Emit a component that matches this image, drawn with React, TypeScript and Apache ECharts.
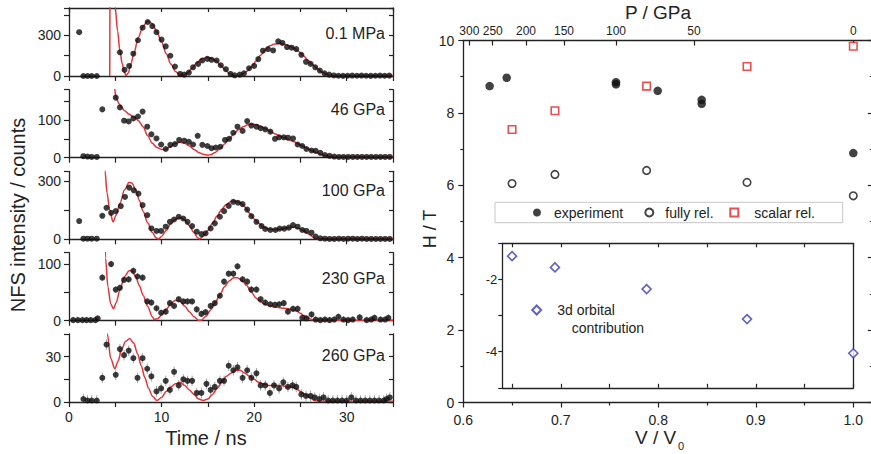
import React, { useEffect, useRef } from 'react';
import * as echarts from 'echarts';

const FONT = '"Liberation Sans", Arial, Helvetica, sans-serif';
const TEXT = '#232323';
const AX = '#232323';

// ---------- Left: NFS time spectra (time ns, counts) ----------
const nfs01MPa = [
  [1.1, 322], [1.55, 0], [2.0, 0], [2.45, 0], [3.0, 0],
  [5.5, 174], [6.0, 45], [6.5, 74], [6.95, 164], [7.45, 263], [7.95, 355], [8.5, 397], [9.0, 367], [9.45, 322],
  [10.0, 268], [10.45, 218], [10.95, 149], [11.45, 69], [12.0, 15], [12.45, 10], [12.95, 25], [13.4, 64], [13.95, 89],
  [14.4, 114], [14.95, 126], [15.4, 119], [15.95, 114], [16.4, 79], [16.95, 50], [17.45, 15], [17.9, 5], [18.45, 10],
  [18.9, 20], [19.45, 57], [20.0, 74], [20.45, 124], [20.95, 186], [21.5, 198], [22.05, 188], [22.6, 255], [23.05, 243],
  [23.55, 213], [24.05, 208], [24.55, 198], [25.1, 156], [25.6, 104], [26.1, 89], [26.6, 64], [27.1, 40], [27.6, 20],
  [28.1, 10], [28.6, 4], [29.1, 2], [29.6, 1], [30.1, 2], [30.6, 3], [31.1, 2], [31.6, 3], [32.1, 2], [32.6, 1],
  [33.1, 2], [33.6, 3], [34.1, 2], [34.6, 3],
];
const fit01MPa = [
  [4.4, 0], [4.45, 1000], [4.8, 800], [5.0, 500], [5.25, 330], [5.5, 185], [5.75, 90], [6.0, 25], [6.15, 3], [6.4, 22],
  [6.7, 90], [7.0, 165], [7.5, 285], [8.0, 368], [8.5, 403], [9.0, 385], [9.5, 325], [10.0, 250], [10.5, 165], [11.0, 88],
  [11.5, 33], [12.0, 7], [12.3, 4], [12.8, 22], [13.3, 58], [13.8, 97], [14.3, 125], [14.9, 138], [15.4, 131], [15.9, 110],
  [16.4, 77], [16.9, 42], [17.4, 15], [17.9, 2], [18.2, 1], [18.7, 12], [19.2, 35], [19.7, 68], [20.2, 108], [20.7, 152],
  [21.2, 192], [21.7, 222], [22.2, 236], [22.8, 239], [23.3, 233], [23.8, 221], [24.3, 204], [24.8, 181], [25.3, 151],
  [25.8, 118], [26.3, 85], [26.8, 55], [27.3, 30], [27.8, 12], [28.3, 3], [29, 1], [30, 3], [31, 2], [32, 4], [33, 3],
  [34, 4], [35, 4],
];

const nfs46GPa = [
  [1.55, 4], [2.0, 3], [2.45, 2], [3.0, 2], [3.6, 128], [5.05, 159], [5.5, 133], [5.95, 98], [6.45, 96], [6.95, 104],
  [7.45, 109], [7.95, 122], [8.45, 82], [8.9, 62], [9.45, 51], [9.95, 35], [10.45, 23], [10.95, 34], [11.45, 36],
  [11.9, 47], [12.45, 45], [12.95, 42], [13.4, 35], [13.9, 58], [14.4, 34], [14.95, 31], [15.4, 25], [15.85, 27],
  [16.35, 29], [16.85, 47], [17.3, 50], [17.75, 66], [18.2, 82], [18.75, 71], [19.25, 97], [19.7, 85], [20.25, 82],
  [20.7, 78], [21.2, 75], [21.75, 69], [22.25, 50], [22.7, 54], [23.2, 54], [23.65, 53], [24.2, 51], [24.7, 35],
  [25.2, 31], [25.65, 23], [26.2, 19], [26.65, 18], [27.15, 13], [27.65, 7], [28.15, 5], [28.65, 3], [29.15, 2],
  [29.65, 2], [30.15, 2], [30.65, 2], [31.15, 2], [31.65, 2], [32.15, 2], [32.65, 2], [33.15, 2], [33.65, 2],
  [34.15, 2], [34.65, 2],
];
const fit46GPa = [
  [4.7, 260], [4.9, 185], [5.1, 158], [5.4, 143], [5.7, 133], [6.0, 124], [6.5, 115], [7.0, 108], [7.5, 98], [8.0, 82],
  [8.5, 58], [9.0, 38], [9.5, 27], [10.0, 22], [10.4, 21], [10.9, 28], [11.4, 37], [12.0, 41], [12.5, 38], [13.0, 31],
  [13.5, 22], [14.0, 14], [14.5, 9], [15.0, 7], [15.3, 8], [15.8, 14], [16.3, 24], [16.8, 36], [17.3, 50], [17.8, 63],
  [18.3, 74], [18.8, 82], [19.3, 87], [19.8, 89], [20.3, 87], [20.8, 82], [21.3, 76], [21.8, 69], [22.3, 63], [22.8, 57],
  [23.3, 52], [23.8, 47], [24.3, 42], [24.8, 36], [25.3, 30], [25.8, 24], [26.3, 18], [26.8, 13], [27.3, 8], [27.8, 5],
  [28.3, 3], [29, 2], [30, 2], [31, 2], [32, 2], [33, 2], [34, 2], [35, 2],
];

const nfs100GPa = [
  [1.1, 94], [1.55, 3], [2.0, 3], [2.45, 3], [3.0, 3], [3.6, 121], [4.05, 162], [4.55, 136], [5.05, 145], [5.6, 171],
  [6.05, 218], [6.5, 266], [7.0, 252], [7.5, 235], [7.95, 176], [8.45, 124], [8.9, 56], [9.45, 43], [9.95, 43],
  [10.45, 65], [10.9, 90], [11.35, 102], [11.85, 116], [12.35, 107], [12.8, 90], [13.3, 68], [13.8, 39], [14.3, 27],
  [14.75, 31], [15.3, 56], [15.75, 82], [16.3, 116], [16.75, 145], [17.25, 172], [17.75, 193], [18.25, 188],
  [18.75, 181], [19.25, 153], [19.7, 119], [20.25, 90], [20.8, 68], [21.2, 53], [21.75, 48], [22.3, 48], [22.75, 55],
  [23.25, 55], [23.75, 60], [24.2, 73], [24.7, 65], [25.2, 48], [25.65, 43], [26.2, 34], [26.65, 14], [27.15, 5],
  [27.65, 3], [28.15, 2], [28.65, 2], [29.15, 3], [29.65, 2], [30.15, 3], [30.65, 3], [31.15, 2], [31.65, 3],
  [32.15, 2], [32.65, 2], [33.15, 2], [33.65, 2], [34.15, 2], [34.65, 2],
];
const fit100GPa = [
  [3.8, 480], [3.9, 350], [4.1, 240], [4.4, 150], [4.75, 90], [5.1, 125], [5.5, 185], [6.0, 255], [6.5, 293], [6.8, 290],
  [7.2, 255], [7.6, 200], [8.0, 145], [8.5, 85], [9.0, 35], [9.4, 8], [9.65, 2], [10.0, 15], [10.5, 45], [11.0, 80],
  [11.5, 103], [12.0, 112], [12.5, 100], [13.0, 70], [13.5, 35], [13.9, 8], [14.1, 2], [14.5, 15], [15.0, 45], [15.5, 82],
  [16.0, 120], [16.5, 155], [17.0, 180], [17.5, 194], [18.0, 197], [18.5, 188], [19.0, 166], [19.5, 135], [20.0, 105],
  [20.5, 82], [21.0, 64], [21.5, 54], [22.0, 50], [22.5, 50], [23.0, 53], [23.5, 58], [24.0, 61], [24.4, 62], [24.8, 57],
  [25.2, 48], [25.6, 36], [26.0, 24], [26.4, 10], [26.7, 3], [27.2, 1], [28, 1], [30, 2], [32, 1], [33, 2], [35, 1],
];

const nfs230GPa = [
  [0.45, 1], [0.95, 1], [1.45, 1], [1.9, 1], [2.35, 1], [2.85, 1], [3.1, 4], [3.6, 76], [4.55, 100], [5.05, 55],
  [5.5, 58], [5.95, 72], [6.45, 73], [6.95, 88], [7.4, 78], [7.95, 76], [8.45, 34], [8.9, 32], [9.45, 22], [9.95, 14],
  [10.45, 16], [10.9, 31], [11.35, 26], [11.85, 38], [12.35, 34], [12.8, 34], [13.3, 34], [13.8, 20], [14.3, 12],
  [14.75, 15], [15.3, 26], [15.75, 31], [16.3, 44], [16.75, 69], [17.25, 83], [17.75, 83], [18.2, 96], [18.75, 73],
  [19.25, 69], [19.7, 55], [20.25, 55], [20.7, 38], [21.2, 32], [21.75, 29], [22.25, 28], [22.7, 29], [23.2, 31],
  [23.65, 16], [24.2, 21], [24.7, 21], [25.2, 5], [25.65, 4], [26.2, 11], [26.65, 2], [27.15, 1], [27.65, 2],
  [28.15, 1], [28.65, 2], [29.1, 7], [29.65, 2], [30.15, 1], [30.65, 2], [31.4, 6], [32.15, 1], [32.65, 2], [33.0, 5],
  [33.65, 2], [34.15, 2], [34.5, 5],
];
const fit230GPa = [
  [3.8, 250], [3.95, 110], [4.2, 60], [4.5, 30], [4.8, 21], [5.1, 32], [5.5, 55], [6.0, 78], [6.5, 88], [6.8, 88],
  [7.2, 78], [7.6, 62], [8.0, 45], [8.5, 25], [9.0, 7], [9.2, 2], [9.6, 4], [10.0, 10], [10.5, 20], [11.0, 30], [11.5, 36],
  [12.0, 34], [12.5, 26], [13.0, 16], [13.5, 7], [14.0, 1], [14.3, 1], [14.8, 8], [15.3, 19], [15.8, 32], [16.3, 46],
  [16.8, 60], [17.3, 70], [17.8, 76], [18.2, 76], [18.7, 71], [19.2, 62], [19.7, 50], [20.2, 40], [20.7, 33], [21.2, 29],
  [21.7, 26], [22.2, 24], [22.7, 23], [23.2, 22], [23.7, 21], [24.2, 19], [24.6, 17], [25.0, 13], [25.4, 9], [25.8, 5],
  [26.2, 2], [26.6, 1], [28, 1], [30, 1], [32, 1], [35, 1],
];

const nfs260GPa = [
  [1.55, 2], [2.0, 1], [2.45, 1], [3.0, 1], [3.6, 16], [4.05, 38], [5.05, 18], [5.5, 35], [5.95, 31], [6.45, 34],
  [6.95, 29], [7.4, 16], [7.95, 29], [8.45, 22], [8.9, 17], [9.45, 7], [9.95, 9], [10.45, 14], [10.9, 8], [11.35, 20],
  [11.85, 11], [12.35, 15], [12.8, 14], [13.3, 14], [13.8, 6], [14.3, 6], [14.85, 12], [15.3, 8], [15.75, 10],
  [16.3, 14], [16.75, 14], [17.25, 24], [17.75, 21], [18.2, 23], [18.75, 16], [19.25, 21], [19.7, 16], [20.25, 19],
  [20.7, 11], [21.2, 11], [21.7, 6], [22.15, 11], [22.7, 9], [23.15, 13], [23.65, 10], [24.15, 11], [24.55, 10],
  [25.1, 5], [25.6, 4], [26.1, 4], [26.55, 3], [27.05, 2], [27.5, 3], [28.0, 1], [28.5, 1], [29.0, 1], [29.5, 1],
  [30.0, 1], [30.5, 3], [31.0, 1], [31.5, 1], [32.0, 1], [32.5, 1], [33.0, 1], [33.5, 1], [34.0, 1], [34.3, 2], [34.65, 3],
];
const fit260GPa = [
  [4.0, 80], [4.15, 45], [4.5, 29], [4.95, 22], [5.3, 27], [5.7, 35], [6.1, 40], [6.55, 42], [7.0, 39], [7.4, 32],
  [7.8, 24], [8.2, 16], [8.6, 9], [9.0, 4], [9.5, 1], [10.0, 3], [10.5, 7], [11.0, 10], [11.5, 12], [12.0, 13], [12.5, 11],
  [13.0, 8], [13.5, 5], [14.0, 2], [14.5, 1], [15.0, 2], [15.5, 5], [16.0, 9], [16.5, 13], [17.0, 17], [17.5, 19],
  [18.0, 21], [18.5, 21], [19.0, 19], [19.5, 17], [20.0, 15], [20.5, 13], [21.0, 12], [21.5, 11], [22.0, 11], [22.5, 11],
  [23.0, 11], [23.5, 10], [24.0, 10], [24.5, 9], [25.0, 7], [25.5, 5], [26.0, 3], [26.5, 1], [27, 0.5], [29, 0.5],
  [32, 0.5], [35, 0.5],
];

const panelLabels = ['0.1 MPa', '46 GPa', '100 GPa', '230 GPa', '260 GPa'];
const panelData = [nfs01MPa, nfs46GPa, nfs100GPa, nfs230GPa, nfs260GPa];
const panelFits = [fit01MPa, fit46GPa, fit100GPa, fit230GPa, fit260GPa];
const panelYMax = [500, 180, 350, 120, 45];
const panelYStep = [150, 50, 150, 50, 15];
const panelYLabels = [[0, 300], [0, 100], [0, 300], [0, 100], [0, 30]];
const panelErr = [0, 0, 0, 6, 3.5];
const timeLabels = [0, 10, 20, 30];

// ---------- Right: hyperfine field vs V/V0 ----------
const vExp = [0.627, 0.6445, 0.7566, 0.7566, 0.7994, 0.8445, 0.8445, 1.0];
const hExp = [8.74, 8.97, 8.85, 8.79, 8.61, 8.36, 8.25, 6.89];
const vTheory = [0.65, 0.694, 0.788, 0.891, 1.0];
const hFullyRel = [6.05, 6.3, 6.41, 6.08, 5.71];
const hScalarRel = [7.54, 8.06, 8.74, 9.28, 9.84];
const orbital3d = [-1.356, -1.668, -2.268, -3.098, -4.044];
const pressureTicks = [300, 250, 200, 150, 100, 50, 0];
const pressureTickV = [0.6062, 0.6302, 0.6643, 0.7033, 0.7566, 0.8366, 1.0];
const insetTicks = [0.65, 0.7, 0.75, 0.8, 0.85, 0.9, 0.95, 1.0];

// ---------- layout ----------
const PANEL_LEFT = 69;
const PANEL_W = 324;
const PANEL_H = 68;
const PANEL_TOPS = [8, 89.7, 171.3, 252.7, 334];

const zip = (a: number[], b: number[]) => a.map((x, i) => [x, b[i]]);

const axisLine = { show: true, onZero: false, lineStyle: { color: AX, width: 1.3 } };
const tick = (inside: boolean, length: number) => ({ show: true, inside, length, lineStyle: { color: AX, width: 1.2 } });
const lbl = (size: number) => ({ color: TEXT, fontSize: size, fontFamily: FONT });
const noSplit = { show: false };

function buildOption() {
  const grid: any[] = [];
  const xAxis: any[] = [];
  const yAxis: any[] = [];
  const series: any[] = [];

  PANEL_TOPS.forEach((top) => {
    grid.push({ left: PANEL_LEFT, top, width: PANEL_W, height: PANEL_H, containLabel: false, outerBoundsMode: 'none' });
  });
  grid.push({ left: 463.3, top: 40.5, width: 409.5, height: 362, containLabel: false, outerBoundsMode: 'none' }); // 5 main
  grid.push({ left: 502.3, top: 243.3, width: 351, height: 144.5, containLabel: false, outerBoundsMode: 'none' }); // 6 inset

  // x axes 0..4 panels bottom
  PANEL_TOPS.forEach((_, i) => {
    xAxis.push({
      type: 'value', gridIndex: i, position: 'bottom', min: 0, max: 35, interval: 5,
      axisLine, axisTick: tick(false, 5), splitLine: noSplit,
      axisLabel: i === 4 ? { show: true, customValues: timeLabels, margin: 8, ...lbl(14) } : { show: false },
    });
  });
  // 5: panel 1 top border
  xAxis.push({
    type: 'value', gridIndex: 0, position: 'top', min: 0, max: 35, interval: 5,
    axisLine, axisTick: tick(true, 4), axisLabel: { show: false }, splitLine: noSplit,
  });
  // 6: main bottom
  xAxis.push({
    type: 'value', gridIndex: 5, position: 'bottom', min: 0.6, max: 1.02, interval: 0.1,
    axisLine, axisTick: tick(false, 5),
    minorTick: { show: true, splitNumber: 2, length: 3, lineStyle: { color: AX, width: 1.2 } },
    minorSplitLine: { show: false }, splitLine: noSplit,
    axisLabel: { margin: 10, ...lbl(14), formatter: (v: number) => (v > 1.001 ? '' : v.toFixed(1)) },
  });
  // 7: main top (pressure)
  xAxis.push({
    type: 'value', gridIndex: 5, position: 'top', min: 0.6, max: 1.02,
    axisLine, splitLine: noSplit,
    axisTick: { ...tick(true, 5), customValues: pressureTickV },
    axisLabel: {
      customValues: pressureTickV, margin: 4, ...lbl(12),
      formatter: (v: number) => {
        const i = pressureTickV.findIndex((p) => Math.abs(p - v) < 1e-6);
        return i >= 0 ? String(pressureTicks[i]) : '';
      },
    },
  });
  // 8,9: inset bottom/top
  ['bottom', 'top'].forEach((pos) => {
    xAxis.push({
      type: 'value', gridIndex: 6, position: pos, min: 0.64, max: 1.0,
      axisLine, splitLine: noSplit,
      axisTick: { ...tick(true, 4), customValues: insetTicks },
      axisLabel: { show: false },
    });
  });

  // y axes 0..4 panel left, 5..9 panel right
  PANEL_TOPS.forEach((_, i) => {
    yAxis.push({
      type: 'value', gridIndex: i, position: 'left', min: 0, max: panelYMax[i], interval: panelYStep[i],
      axisLine, axisTick: tick(false, 5), splitLine: noSplit,
      axisLabel: { customValues: panelYLabels[i], margin: 8, ...lbl(14) },
    });
  });
  PANEL_TOPS.forEach((_, i) => {
    yAxis.push({
      type: 'value', gridIndex: i, position: 'right', min: 0, max: panelYMax[i], interval: panelYStep[i],
      axisLine, axisTick: tick(true, 4), splitLine: noSplit, axisLabel: { show: false },
    });
  });
  // 10 main left, 11 main right
  yAxis.push({
    type: 'value', gridIndex: 5, position: 'left', min: 0, max: 10, interval: 2,
    axisLine, axisTick: tick(false, 5), splitLine: noSplit,
    minorTick: { show: true, splitNumber: 2, length: 3, lineStyle: { color: AX, width: 1.2 } }, minorSplitLine: { show: false },
    axisLabel: { margin: 9, ...lbl(14) },
  });
  yAxis.push({
    type: 'value', gridIndex: 5, position: 'right', min: 0, max: 10, interval: 2,
    axisLine, axisTick: tick(true, 5), splitLine: noSplit,
    minorTick: { show: true, splitNumber: 2, length: 3, lineStyle: { color: AX, width: 1.2 } }, minorSplitLine: { show: false },
    axisLabel: { show: false },
  });
  // 12 inset left, 13 inset right
  yAxis.push({
    type: 'value', gridIndex: 6, position: 'left', min: -5, max: -1, interval: 1,
    axisLine, axisTick: tick(false, 4), splitLine: noSplit,
    axisLabel: { customValues: [-2, -4], margin: 5, ...lbl(13) },
  });
  yAxis.push({
    type: 'value', gridIndex: 6, position: 'right', min: -5, max: -1, interval: 1,
    axisLine, axisTick: { show: false }, splitLine: noSplit, axisLabel: { show: false },
  });

  // panel series
  panelData.forEach((d, i) => {
    if (panelErr[i] > 0) {
      const err = panelErr[i];
      series.push({
        type: 'custom', xAxisIndex: i, yAxisIndex: i, data: d, z: 1, silent: true,
        encode: { x: 0, y: 1 },
        renderItem: (_p: any, api: any) => {
          const x = api.value(0);
          const y = api.value(1);
          const a = api.coord([x, Math.max(0, y - err)]);
          const b = api.coord([x, y + err]);
          return { type: 'line', shape: { x1: a[0], y1: a[1], x2: b[0], y2: b[1] }, style: { stroke: '#a8a8a8', lineWidth: 1 } };
        },
      });
    }
    series.push({
      type: 'line', name: 'fit ' + panelLabels[i], xAxisIndex: i, yAxisIndex: i, data: panelFits[i],
      showSymbol: false, symbol: 'none', smooth: 0.3, smoothMonotone: 'x', clip: true, z: 2,
      lineStyle: { color: '#e2353a', width: 1.5 },
    });
    series.push({
      type: 'scatter', name: panelLabels[i], xAxisIndex: i, yAxisIndex: i, data: d, z: 3,
      symbol: 'circle', symbolSize: 6, itemStyle: { color: '#0d0d0d' },
    });
  });

  // main series
  series.push({
    type: 'scatter', name: 'experiment', xAxisIndex: 6, yAxisIndex: 10, data: zip(vExp, hExp), clip: false,
    symbol: 'circle', symbolSize: 8.5, itemStyle: { color: '#111111' }, z: 4,
  });
  series.push({
    type: 'scatter', name: 'fully rel.', xAxisIndex: 6, yAxisIndex: 10, data: zip(vTheory, hFullyRel), clip: false,
    symbol: 'circle', symbolSize: 7.5, itemStyle: { color: '#ffffff', borderColor: '#151515', borderWidth: 1.6 }, z: 4,
  });
  series.push({
    type: 'scatter', name: 'scalar rel.', xAxisIndex: 6, yAxisIndex: 10, data: zip(vTheory, hScalarRel), clip: false,
    symbol: 'rect', symbolSize: 7.5, itemStyle: { color: '#ffffff', borderColor: '#e02424', borderWidth: 1.6 }, z: 4,
  });
  series.push({
    type: 'scatter', name: '3d orbital contribution', xAxisIndex: 8, yAxisIndex: 12, data: zip(vTheory, orbital3d), clip: false,
    symbol: 'diamond', symbolSize: 9, itemStyle: { color: '#ffffff', borderColor: '#3b3bb4', borderWidth: 1.6 }, z: 4,
  });

  const txt = (text: string, x: number, y: number, size: number, extra: any = {}) => ({
    type: 'text', x, y, rotation: extra.rotation || 0, silent: true, z: 10,
    style: {
      text, fontSize: size, fontFamily: FONT, fill: TEXT,
      align: extra.align || 'center', verticalAlign: 'middle',
    },
  });

  const panelLabelY = [33.3, 109, 190, 278.3, 355.7];
  const graphic: any[] = [
    {
      type: 'rect', silent: true, z: 0,
      shape: { x: 495, y: 202.3, width: 347.7, height: 20.4 },
      style: { fill: '#ffffff', stroke: '#c6c6c6', lineWidth: 1 },
    },
    txt('NFS intensity / counts', 17.5, 215, 20, { rotation: Math.PI / 2 }),
    txt('Time / ns', 206, 438, 20),
    txt('H / T', 430, 229, 18, { rotation: Math.PI / 2 }),
    txt('P / GPa', 658, 12, 19),
    txt('V / V', 635, 437, 19, { align: 'left' }),
    txt('0', 678, 446, 11, { align: 'left' }),
    txt('contribution', 571.7, 328.3, 14, { align: 'left' }),
    ...panelLabels.map((s, i) => txt(s, 385, panelLabelY[i], 16, { align: 'right' })),
  ];

  const legendItem = (name: string, left: number, top: number, size: number, textPad: number, formatter?: any) => ({
    data: [name], left, top, orient: 'horizontal', padding: 0, z: 5,
    itemWidth: size, itemHeight: size, selectedMode: false,
    formatter: formatter || ((n: string) => n),
    textStyle: { fontSize: 14, fontFamily: FONT, color: TEXT, lineHeight: 16, padding: [0, 0, 0, textPad] },
  });

  return {
    animation: false,
    backgroundColor: '#ffffff',
    textStyle: { fontFamily: FONT, color: TEXT },
    grid, xAxis, yAxis, series, graphic,
    legend: [
      legendItem('experiment', 533, 204.5, 8, 8),
      legendItem('fully rel.', 644.3, 204.5, 8, 7),
      legendItem('scalar rel.', 729.3, 204.5, 8, 11),
      legendItem('3d orbital contribution', 531.2, 302, 9, 11, () => '3d orbital'),
    ],
  };
}

export default function App() {
  const ref = useRef<HTMLDivElement>(null);
  useEffect(() => {
    document.body.style.margin = '0';
    const chart = echarts.init(ref.current as HTMLDivElement, null, { renderer: 'svg' });
    chart.setOption(buildOption() as any);
    return () => chart.dispose();
  }, []);
  return <div ref={ref} style={{ position: 'absolute', left: 0, top: 0, width: 871, height: 454 }} />;
}
